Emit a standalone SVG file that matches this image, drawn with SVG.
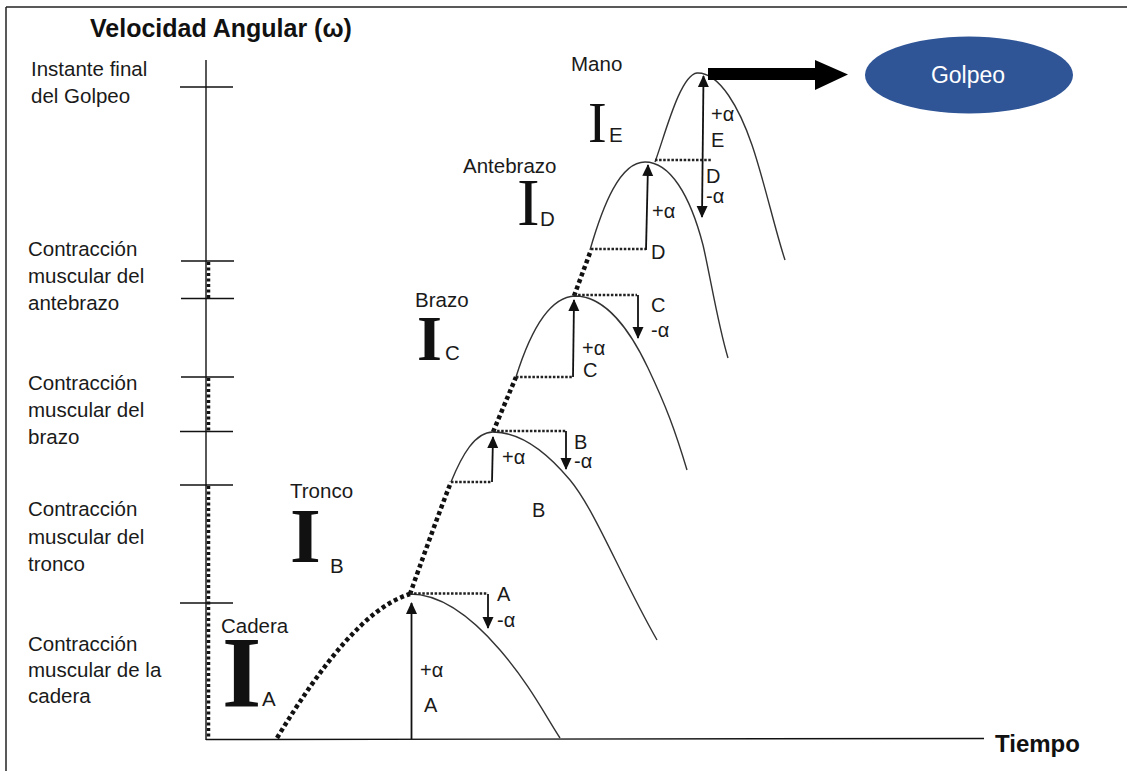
<svg xmlns="http://www.w3.org/2000/svg" width="1127" height="771" viewBox="0 0 1127 771">
<defs>
<marker id="ah" markerUnits="userSpaceOnUse" markerWidth="12" markerHeight="12" viewBox="0 0 12 12" refX="11" refY="6" orient="auto">
<path d="M0,0.5 L12,6 L0,11.5 Z" fill="#111"/>
</marker>
<marker id="ahs" markerUnits="userSpaceOnUse" markerWidth="12" markerHeight="12" viewBox="0 0 12 12" refX="1" refY="6" orient="auto">
<path d="M12,0.5 L0,6 L12,11.5 Z" fill="#111"/>
</marker>
<style>
.t{font-family:"Liberation Sans",Arial,sans-serif;font-size:20.5px;fill:#1a1a1a}
.s{font-family:"Liberation Sans",Arial,sans-serif;font-size:20px;fill:#1a1a1a}
.b{font-family:"Liberation Sans",Arial,sans-serif;font-weight:bold;fill:#111}
.ib{font-family:"Liberation Serif","Times New Roman",serif;font-weight:bold;fill:#111}
.ir{font-family:"Liberation Serif","Times New Roman",serif;fill:#111}
.ax{stroke:#111;stroke-width:1.4;fill:none}
.cv{stroke:#333;stroke-width:1.4;fill:none}
.td{stroke:#111;stroke-width:4.5;stroke-dasharray:4 3;fill:none}
.hd{stroke:#222;stroke-width:2.5;stroke-dasharray:2.5 1.6;fill:none}
.ar{stroke:#111;stroke-width:1.8;fill:none;marker-end:url(#ah)}
</style>
</defs>
<rect width="1127" height="771" fill="#fff"/>
<g id="frame">
<line x1="6" y1="7" x2="1127" y2="7" stroke="#222" stroke-width="1.5"/>
<line x1="6" y1="7" x2="6" y2="771" stroke="#222" stroke-width="1.5"/>
</g>
<g id="axes">
<line class="ax" x1="206" y1="60" x2="206" y2="740"/>
<line class="ax" x1="206" y1="739.5" x2="984" y2="738.5"/>
<line class="ax" x1="180" y1="87" x2="233" y2="87"/>
<line class="ax" x1="181" y1="261" x2="234" y2="261"/>
<line class="ax" x1="181" y1="298.5" x2="234" y2="298.5"/>
<line class="ax" x1="181" y1="377" x2="234" y2="377"/>
<line class="ax" x1="180" y1="431.5" x2="233" y2="431.5"/>
<line class="ax" x1="180" y1="485" x2="233" y2="485"/>
<line class="ax" x1="180" y1="603" x2="233" y2="603"/>
<line x1="208.5" y1="262" x2="208.5" y2="298" stroke="#111" stroke-width="3.5" stroke-dasharray="3 2.5"/>
<line x1="208.5" y1="378" x2="208.5" y2="431" stroke="#111" stroke-width="3.5" stroke-dasharray="3 2.5"/>
<line x1="208.5" y1="486" x2="208.5" y2="739" stroke="#111" stroke-width="3.5" stroke-dasharray="3 2.5"/>
<text class="b" x="90" y="37" font-size="25">Velocidad Angular (ω)</text>
<text class="b" x="995" y="752" font-size="24">Tiempo</text>
</g>
<g id="ylabels">
<text class="t" x="31" y="76">Instante final</text>
<text class="t" x="31" y="103">del Golpeo</text>
<text class="t" x="28" y="256">Contracción</text>
<text class="t" x="28" y="283">muscular del</text>
<text class="t" x="28" y="310">antebrazo</text>
<text class="t" x="28" y="390">Contracción</text>
<text class="t" x="28" y="417">muscular del</text>
<text class="t" x="28" y="444">brazo</text>
<text class="t" x="28" y="516">Contracción</text>
<text class="t" x="28" y="544">muscular del</text>
<text class="t" x="28" y="571">tronco</text>
<text class="t" x="28" y="651">Contracción</text>
<text class="t" x="28" y="677">muscular de la</text>
<text class="t" x="28" y="703">cadera</text>
</g>
<g id="segment-A">
<text class="t" x="221" y="633">Cadera</text>
<text class="ib" x="222" y="707" font-size="101">I</text>
<text class="t" x="262" y="706" font-size="21">A</text>
</g>
<g id="segment-B">
<text class="t" x="290" y="498">Tronco</text>
<text class="ib" x="290" y="562" font-size="79">I</text>
<text class="t" x="330" y="573" font-size="21">B</text>
</g>
<g id="segment-C">
<text class="t" x="415" y="307">Brazo</text>
<text class="ib" x="417" y="360" font-size="64">I</text>
<text class="t" x="445" y="360" font-size="21">C</text>
</g>
<g id="segment-D">
<text class="t" x="463" y="173">Antebrazo</text>
<text class="ir" x="517" y="225" font-size="68">I</text>
<text class="t" x="540" y="226" font-size="21">D</text>
</g>
<g id="segment-E">
<text class="t" x="571" y="71">Mano</text>
<text class="ir" x="588" y="142" font-size="56">I</text>
<text class="t" x="609" y="142" font-size="21">E</text>
</g>
<g id="golpeo">
<ellipse cx="969" cy="75" rx="104" ry="38.5" fill="#2F5597"/>
<text x="968" y="83" text-anchor="middle" font-family="Liberation Sans,Arial,sans-serif" font-size="23" fill="#fff">Golpeo</text>
</g>
<g id="connectors">
<!-- thick dotted rising sections -->
<path class="td" d="M277,738 C300,700 322,668 345,642 C365,620 385,602 410,594"/>
<path class="td" d="M410,594 C422,560 437,518 451,482"/>
<path class="td" d="M493,432 L516,377"/>
<path class="td" d="M574,296 L591,250"/>
<!-- solid curves -->
<path class="cv" d="M410,594 C440,594 470,615 500,650 S545,715 560,738"/>
<path class="cv" d="M451,482 C462,455 475,432 493,432 C520,432 545,450 570,480 S620,575 657,640"/>
<path class="cv" d="M516,377 C526,345 545,297 575,296 C605,296 630,330 648,368 S675,430 687,470"/>
<path class="cv" d="M590,250 C603,205 620,162 645,162 C670,162 690,195 703,245 C710,275 718,325 728,358"/>
<path class="cv" d="M655,162 C665,135 680,75 697,73 C720,72 740,110 752,145 S775,230 785,260"/>
<!-- thin dotted horizontals -->
<path class="hd" d="M410,593.5 H488"/>
<path class="hd" d="M451,482 H492"/>
<path class="hd" d="M493,431 H566"/>
<path class="hd" d="M516,377 H573"/>
<path class="hd" d="M574,295 H637"/>
<path class="hd" d="M591,249 H646"/>
<path class="hd" d="M655,160 H712"/>
<!-- arrows -->
<line class="ar" x1="411.5" y1="739" x2="411.5" y2="603"/>
<line class="ar" x1="488" y1="594" x2="488" y2="628"/>
<line class="ar" x1="492" y1="482" x2="493" y2="437"/>
<line class="ar" x1="566" y1="431" x2="566" y2="469"/>
<line class="ar" x1="573" y1="377" x2="574" y2="300"/>
<line class="ar" x1="638" y1="295" x2="638" y2="338"/>
<line class="ar" x1="646" y1="250" x2="648" y2="165"/>
<line x1="702" y1="217" x2="703.5" y2="76" stroke="#111" stroke-width="1.8" marker-end="url(#ah)" marker-start="url(#ahs)"/>
<polygon points="708,68 815,68 815,60 848,74.5 815,90 815,80 708,80" fill="#000"/>
<!-- labels -->
<text class="s" x="497" y="601">A</text>
<text class="s" x="497" y="627">-α</text>
<text class="s" x="420" y="677">+α</text>
<text class="s" x="424" y="712">A</text>
<text class="s" x="502" y="464">+α</text>
<text class="s" x="574" y="449">B</text>
<text class="s" x="574" y="468">-α</text>
<text class="s" x="532" y="517">B</text>
<text class="s" x="582" y="355">+α</text>
<text class="s" x="583" y="377">C</text>
<text class="s" x="651" y="312">C</text>
<text class="s" x="651" y="337">-α</text>
<text class="s" x="652" y="218">+α</text>
<text class="s" x="651" y="259">D</text>
<text class="s" x="711" y="121">+α</text>
<text class="s" x="711" y="147">E</text>
<text class="s" x="706" y="183">D</text>
<text class="s" x="706" y="203">-α</text>
</g>
</svg>
